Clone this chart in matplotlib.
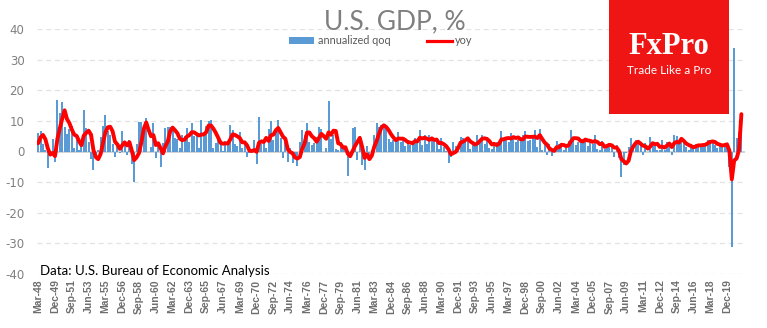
import matplotlib
matplotlib.use("Agg")
import matplotlib.pyplot as plt
import numpy as np
import pandas as pd
from matplotlib.patches import Rectangle, Patch
from matplotlib.lines import Line2D

# ---- data ----
quarters = pd.period_range("1948Q1", "2021Q2", freq="Q")

qoq = [
    6.2, 6.8, 2.3, 0.5,      -5.4, -1.4, 4.2, -3.3,     16.9, 12.7, 16.3, 7.9,
    5.6, 7.2, 8.2, 1.1,      3.9, 0.4, 2.8, 13.6,       7.7, 3.1, -2.4, -6.2,
    -1.9, 0.4, 4.6, 8.2,     12.0, 6.8, 5.4, 2.3,       -1.7, 3.2, -0.4, 6.8,
    2.5, -1.0, 3.9, -4.1,    -10.0, 2.6, 9.6, 9.7,      7.9, 10.9, -0.3, 1.5,
    9.3, -2.1, 2.0, -5.0,    2.7, 7.6, 8.0, 8.1,        7.4, 4.3, 4.0, 1.2,
    5.4, 5.1, 7.8, 3.1,      9.2, 4.9, 5.6, 1.3,        10.2, 5.4, 8.2, 10.0,
    10.3, 1.3, 2.9, 3.6,     3.4, 0.3, 3.3, 3.5,        8.5, 7.0, 2.5, 1.8,
    6.4, 1.2, 2.5, -1.9,     -0.6, 0.6, 3.7, -4.2,      11.3, 2.3, 3.1, 1.1,
    7.3, 9.8, 3.8, 6.8,      10.3, 4.4, -2.1, 3.9,      -3.4, 1.0, -3.8, -1.6,
    -4.7, 3.0, 6.9, 5.5,     9.3, 3.0, 2.2, 2.9,        4.8, 8.0, 7.3, 0.0,
    1.3, 16.4, 4.1, 5.5,     0.7, 0.4, 3.0, 1.0,        1.3, -8.0, -0.5, 7.7,
    8.1, -2.9, 4.9, -4.3,    -6.1, 1.8, -1.5, 0.4,      5.3, 9.4, 8.1, 8.5,
    8.2, 7.2, 4.0, 3.2,      3.9, 3.6, 6.3, 3.0,        3.8, 1.8, 3.9, 2.2,
    3.0, 4.4, 3.5, 7.0,      2.1, 5.4, 2.4, 5.4,        4.1, 3.1, 3.0, 0.8,
    4.4, 1.5, 0.3, -3.6,     -1.9, 3.1, 1.9, 1.8,       4.7, 4.4, 4.0, 4.2,
    0.7, 2.3, 1.9, 5.4,      3.9, 5.5, 2.3, 4.6,        1.3, 0.9, 3.2, 3.0,
    2.9, 6.7, 3.4, 4.3,      3.1, 6.2, 5.2, 3.1,        3.9, 3.7, 5.3, 6.7,
    3.4, 3.6, 5.4, 7.0,      1.5, 7.5, 0.4, 2.4,        -1.3, 2.5, -1.6, 1.1,
    3.5, 2.4, 1.8, 0.6,      2.2, 3.5, 7.0, 4.7,        2.2, 3.1, 3.8, 4.1,
    4.5, 1.9, 3.6, 2.6,      5.4, 0.9, 0.6, 3.5,        0.9, 2.3, 2.2, 2.5,
    -1.7, 2.1, -2.1, -8.4,   -4.4, -0.6, 1.5, 4.5,      1.5, 3.7, 3.0, 2.0,
    -1.0, 2.9, -0.1, 4.7,    3.2, 1.7, 0.5, 0.5,        3.6, 0.5, 3.2, 3.2,
    -1.1, 5.5, 5.0, 2.3,     3.8, 2.7, 1.5, 0.6,        2.4, 1.2, 2.4, 2.0,
    2.3, 1.7, 2.9, 3.9,      3.8, 2.7, 2.1, 1.3,        2.9, 1.5, 2.6, 2.4,
    -5.1, -31.2, 33.8, 4.5,  6.3, 6.7,
]

yoy = [
    2.7, 4.65, 5.4, 4.0,     1.05, -1.0, -0.5, -1.5,    4.1, 7.6, 10.65, 13.45,
    10.6, 9.25, 7.2, 5.5,    5.1, 3.4, 2.05, 5.2,       6.1, 6.8, 5.5, 0.55,
    -1.85, -2.5, -0.8, 2.8,  6.3, 7.9, 8.1, 6.6,        3.2, 2.3, 0.85, 2.0,
    3.0, 2.0, 3.05, 0.3,     -2.8, -1.9, -0.5, 3.0,     7.45, 9.5, 7.05, 5.0,
    5.35, 2.1, 2.7, 1.05,    -0.6, 1.8, 3.3, 6.6,       7.8, 6.95, 5.95, 4.2,
    3.7, 3.9, 4.9, 5.35,     6.3, 6.25, 5.7, 5.25,      5.5, 5.6, 6.3, 8.45,
    8.5, 7.45, 6.1, 4.5,     2.8, 2.55, 2.65, 2.6,      3.9, 5.6, 5.4, 4.95,
    4.4, 3.0, 3.0, 2.05,     0.3, 0.15, 0.45, -0.1,     2.85, 3.3, 3.1, 4.45,
    3.45, 5.3, 5.5, 6.9,     7.7, 6.3, 4.85, 4.1,       0.7, -0.15, -0.6, -1.95,
    -2.3, -1.8, 0.9, 2.7,    6.2, 6.2, 5.0, 4.35,       3.2, 4.5, 5.75, 5.0,
    4.15, 6.25, 5.45, 6.8,   6.7, 2.7, 2.4, 1.3,        1.4, -0.7, -1.55, 0.1,
    1.8, 3.1, 4.45, 1.45,    -2.1, -0.9, -2.5, -1.35,   1.5, 3.4, 5.8, 7.8,
    8.55, 8.0, 7.0, 5.65,    4.6, 3.7, 4.25, 4.2,       4.2, 3.7, 3.1, 2.9,
    2.7, 3.4, 3.3, 4.5,      4.25, 4.5, 4.2, 3.8,       4.3, 3.75, 3.9, 2.75,
    2.8, 2.4, 1.75, 0.65,    -0.9, -0.5, -0.1, 1.2,     2.9, 3.2, 3.7, 4.3,
    3.3, 2.8, 2.3, 2.6,      3.4, 4.2, 4.3, 4.1,        3.4, 2.3, 2.5, 2.1,
    2.5, 3.95, 4.0, 4.3,     4.4, 4.25, 4.7, 4.4,       4.6, 4.0, 4.0, 4.9,
    4.8, 4.75, 4.8, 4.85,    4.4, 5.35, 4.1, 2.95,      2.25, 1.0, 0.5, 0.2,
    1.4, 1.35, 2.2, 2.1,     1.75, 2.0, 3.3, 4.35,      4.35, 4.25, 3.45, 3.3,
    3.9, 3.6, 3.5, 3.15,     3.4, 3.1, 2.4, 2.6,        1.5, 1.8, 2.2, 2.0,
    1.3, 1.3, 0.2, -2.5,     -3.2, -3.9, -3.0, 0.25,    1.7, 2.8, 3.2, 2.55,
    1.9, 1.7, 0.95, 1.6,     2.7, 2.4, 2.5, 1.5,        1.6, 1.3, 1.95, 2.6,
    1.45, 2.7, 3.15, 2.9,    4.15, 3.45, 2.6, 2.15,     1.8, 1.4, 1.65, 2.0,
    2.0, 2.1, 2.2, 2.7,      3.1, 3.3, 3.1, 2.5,        2.25, 1.95, 2.1, 2.35,
    0.3, -9.1, -2.9, -2.3,   0.5, 12.2,
]

tick_labels = [
    "Mar-48", "Dec-49", "Sep-51", "Jun-53", "Mar-55", "Dec-56", "Sep-58",
    "Jun-60", "Mar-62", "Dec-63", "Sep-65", "Jun-67", "Mar-69", "Dec-70",
    "Sep-72", "Jun-74", "Mar-76", "Dec-77", "Sep-79", "Jun-81", "Mar-83",
    "Dec-84", "Sep-86", "Jun-88", "Mar-90", "Dec-91", "Sep-93", "Jun-95",
    "Mar-97", "Dec-98", "Sep-00", "Jun-02", "Mar-04", "Dec-05", "Sep-07",
    "Jun-09", "Mar-11", "Dec-12", "Sep-14", "Jun-16", "Mar-18", "Dec-19",
]
y_ticks = [-40, -30, -20, -10, 0, 10, 20, 30, 40]

# ---- figure ----
W, H = 767, 328
fig = plt.figure(figsize=(W / 100, H / 100), dpi=100)
ax = fig.add_axes([37 / W, 1 - 274 / H, (745 - 37) / W, (274 - 29) / H])

x = np.arange(len(quarters))
q_labels = [p.end_time.strftime("%b-%y") for p in quarters]
tick_pos = [q_labels.index(l) for l in tick_labels]

ax.bar(x, qoq, width=0.85, color="#5B9BD5", zorder=2, linewidth=0)
ax.plot(x, yoy, color="#FF0000", lw=2.8, zorder=3, solid_joinstyle="round",
        solid_capstyle="round")

ax.set_xlim(-0.5, len(quarters) + 0.5)
ax.set_ylim(-40, 40)
ax.set_yticks(y_ticks)
ax.set_yticklabels([str(v) for v in y_ticks], color="#808080", fontsize=8.5)
for v in y_ticks:
    if v != 0:
        ax.axhline(v, color="#e2e2e2", lw=0.9, ls=(0, (4, 3)), zorder=0)
ax.axhline(0, color="#d0d0d0", lw=1.3, zorder=1)

ax.set_xticks(tick_pos)
ax.set_xticklabels(tick_labels, rotation=90, color="#6e6e6e", fontsize=7.5,
                   fontweight="bold", family="Liberation Sans")
ax.tick_params(axis="both", length=0)
ax.tick_params(axis="x", pad=4)
ax.tick_params(axis="y", pad=9)
for s in ax.spines.values():
    s.set_visible(False)

# title
fig.text(395 / W, 1 - 22 / H, "U.S. GDP, %", ha="center", va="center",
         fontsize=19, color="#7f7f7f", family="Lato")

# legend
handles = [Patch(facecolor="#5B9BD5", edgecolor="none"),
           Line2D([], [], color="#FF0000", lw=2.3)]
fig.legend(handles, ["annualized qoq", "yoy"], loc="center",
           bbox_to_anchor=(381 / W, 1 - 41 / H), ncol=2, frameon=False,
           fontsize=7.8, handlelength=2.3, handleheight=0.6,
           columnspacing=3.4, handletextpad=0.3, labelcolor="#595959",
           prop={"family": "Lato", "size": 7.8})

# source note
fig.text(40 / W, 1 - 271 / H, "Data: U.S. Bureau of Economic Analysis",
         ha="left", va="center", fontsize=9.5, color="#000000", family="Lato")

# FxPro logo
fig.patches.append(Rectangle((609 / W, 1 - 114 / H), (729 - 609) / W, 114 / H,
                             transform=fig.transFigure, facecolor="#F01515",
                             edgecolor="none", zorder=10))
fig.text(669 / W, 1 - 46 / H, "FxPro", ha="center", va="center",
         fontsize=22, color="white", family="Liberation Serif",
         fontweight="bold", zorder=11)
fig.text(669 / W, 1 - 71 / H, "Trade Like a Pro", ha="center", va="center",
         fontsize=8.5, color="white", family="Lato", zorder=11)

fig.savefig("out.png", dpi=100)
